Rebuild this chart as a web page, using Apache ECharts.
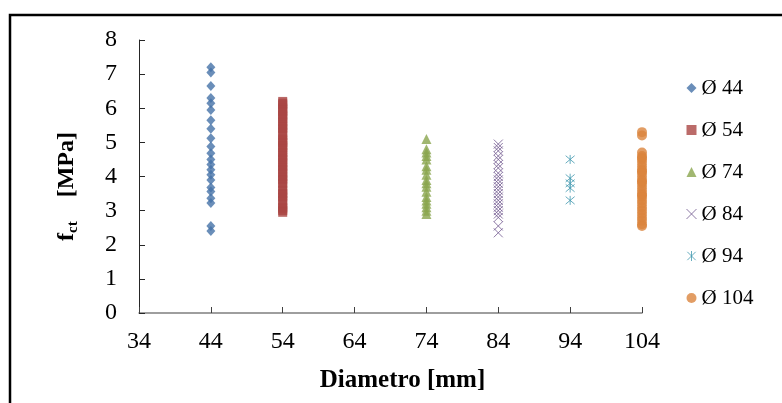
<!DOCTYPE html>
<html>
<head>
<meta charset="utf-8">
<title>fct vs Diametro</title>
<script src="https://cdn.jsdelivr.net/npm/echarts@6/dist/echarts.min.js"></script>
<style>
  html, body { margin: 0; padding: 0; background: #fff; }
  #chart { width: 782px; height: 403px; }
</style>
</head>
<body>
<div id="chart"></div>
<script>
// 数据：每个直径一组 fct 值 [MPa]
const seriesNames = ["Ø 44", "Ø 54", "Ø 74", "Ø 84", "Ø 94", "Ø 104"];
const diameters = [44, 54, 74, 84, 94, 104];
const xTicks = [34, 44, 54, 64, 74, 84, 94, 104];

const fct44 = [7.2, 7.05, 6.65, 6.3, 6.15, 5.95, 5.65, 5.4, 5.12, 4.88, 4.68, 4.5, 4.35,
  4.2, 4.05, 3.9, 3.68, 3.56, 3.36, 3.22, 2.55, 2.4];
const fct54 = [6.2, 6.15, 6.1, 6.0, 5.95, 5.9, 5.8, 5.75, 5.7, 5.6, 5.5, 5.45, 5.4, 5.3,
  5.2, 5.1, 5.05, 5.0, 4.9, 4.85, 4.8, 4.7, 4.6, 4.55, 4.5, 4.4, 4.3, 4.25, 4.2, 4.1,
  4.0, 3.95, 3.9, 3.8, 3.7, 3.6, 3.5, 3.45, 3.4, 3.3, 3.2, 3.1, 3.05, 3.0, 2.95];
const fct74 = [5.1, 4.8, 4.7, 4.6, 4.5, 4.3, 4.2, 4.05, 3.9, 3.8, 3.7, 3.55, 3.4, 3.3,
  3.2, 3.1, 3.0, 2.9];
const fct84 = [4.95, 4.85, 4.75, 4.6, 4.5, 4.35, 4.25, 4.1, 4.0, 3.9, 3.8, 3.7, 3.6,
  3.5, 3.4, 3.3, 3.2, 3.1, 3.0, 2.9, 2.8, 2.55, 2.35];
const fct94 = [4.5, 3.95, 3.8, 3.66, 3.3];
const fct104 = [5.3, 5.2, 4.7, 4.6, 4.55, 4.5, 4.4, 4.3, 4.2, 4.15, 4.1, 4.0, 3.9,
  3.85, 3.8, 3.7, 3.6, 3.5, 3.45, 3.4, 3.3, 3.2, 3.1, 3.0, 2.9, 2.8, 2.7, 2.6, 2.55];

const allValues = [fct44, fct54, fct74, fct84, fct94, fct104];

// 样式
const colors = ["#4572A7", "#AA4643", "#89A54E", "#71588F", "#4198AF", "#DB843D"];
const symbols = [
  "diamond",
  "rect",
  "triangle",
  "path://M0,0L10,10M10,0L0,10",
  "path://M0,0L10,10M10,0L0,10M5,-1L5,11",
  "circle"
];
const sizes = [[9, 10], 9, 10, 9, 9, 10];
const font = "'Liberation Serif', 'Times New Roman', serif";

// 叉号和星号用描边，其余用填充
const styleFor = (i) => (i === 3 || i === 4)
  ? { color: "rgba(0,0,0,0)", borderColor: colors[i], borderWidth: 1 }
  : { color: colors[i] };

const series = seriesNames.map((name, i) => ({
  name: name,
  type: "scatter",
  symbol: symbols[i],
  symbolSize: sizes[i],
  data: allValues[i].map((v) => [diameters[i], v]),
  itemStyle: styleFor(i),
  emphasis: { disabled: true }
}));

const chart = echarts.init(document.getElementById("chart"), null, { renderer: "canvas" });
chart.setOption({
  animation: false,
  backgroundColor: "#fff",
  textStyle: { fontFamily: font },
  grid: { left: 139, top: 40, width: 503, height: 273 },
  graphic: [{
    type: "rect",
    shape: { x: 10, y: 15, width: 790, height: 400 },
    style: { fill: "none", stroke: "#000", lineWidth: 2.5 },
    silent: true
  }],
  legend: {
    orient: "vertical",
    left: 681,
    top: 72,
    itemWidth: 10,
    itemHeight: 10,
    itemGap: 20,
    textStyle: { fontFamily: font, fontSize: 21, color: "#000", lineHeight: 22 },
    data: seriesNames.map((n, i) => ({ name: n, icon: symbols[i], itemStyle: styleFor(i) }))
  },
  xAxis: {
    type: "value",
    min: 34,
    max: 104,
    interval: 10,
    name: "Diametro [mm]",
    nameLocation: "middle",
    nameGap: 55,
    nameTextStyle: {
      fontFamily: font, fontSize: 25, fontWeight: "bold", color: "#000",
      padding: [0, 0, 0, 24]
    },
    axisLine: { lineStyle: { color: "#7f7f7f", width: 1.5 } },
    axisTick: { inside: true, length: 6, lineStyle: { color: "#404040" } },
    axisLabel: { fontFamily: font, fontSize: 24, color: "#000", margin: 17 },
    splitLine: { show: false }
  },
  yAxis: {
    type: "value",
    min: 0,
    max: 8,
    interval: 1,
    name: "{b|f}{s|ct}{b|    [MPa]}",
    nameLocation: "middle",
    nameRotate: 90,
    nameGap: 58,
    nameTextStyle: {
      fontFamily: font, fontSize: 24, fontWeight: "bold", color: "#000",
      padding: [0, 20, 0, 0],
      rich: {
        b: { fontFamily: font, fontSize: 24, fontWeight: "bold", lineHeight: 28 },
        s: { fontFamily: font, fontSize: 15, fontWeight: "bold", lineHeight: 10, verticalAlign: "bottom" }
      }
    },
    axisLine: { show: true, lineStyle: { color: "#262626", width: 1 } },
    axisTick: { show: true, inside: true, length: 6, lineStyle: { color: "#262626" } },
    axisLabel: { fontFamily: font, fontSize: 24, color: "#000", margin: 22 },
    splitLine: { show: false }
  },
  series: series
});
</script>
</body>
</html>
